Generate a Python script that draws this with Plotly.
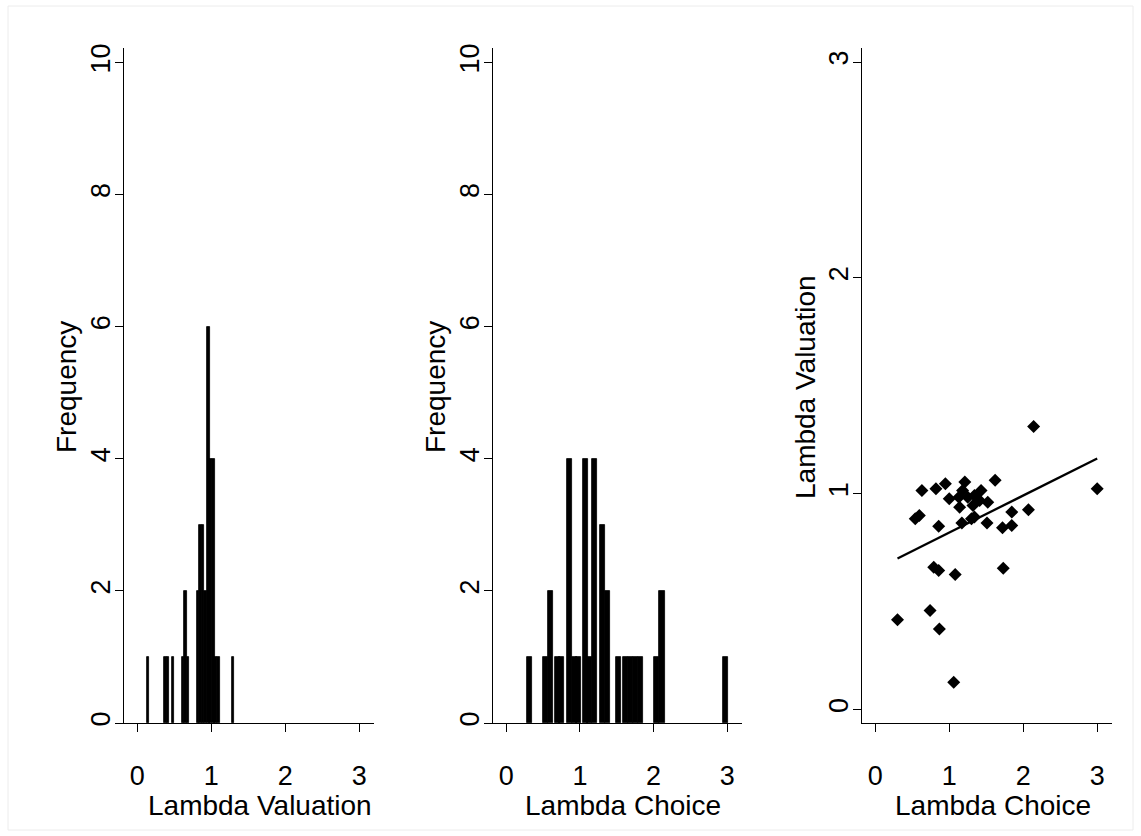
import plotly.graph_objects as go

# ---------------- data ----------------
# Histogram of Lambda Valuation (bin centres and frequencies)
val_bin_centers = [0.144, 0.381, 0.415, 0.483, 0.619, 0.653, 0.687, 0.822, 0.856,
                   0.890, 0.924, 0.958, 0.992, 1.026, 1.060, 1.094, 1.295]
val_freq = [1, 1, 1, 1, 1, 2, 1, 2, 3, 3, 2, 6, 4, 4, 1, 1, 1]
val_bin_width = 0.036

# Histogram of Lambda Choice (bin centres and frequencies)
choice_bin_centers = [0.318, 0.534, 0.596, 0.691, 0.750, 0.860, 0.924, 0.985, 1.082,
                      1.134, 1.192, 1.300, 1.370, 1.520, 1.615, 1.683, 1.751, 1.818,
                      2.046, 2.114, 2.977]
choice_freq = [1, 1, 2, 1, 1, 4, 1, 1, 4, 1, 4, 3, 2, 1, 1, 1, 1, 1, 1, 2, 1]
choice_bin_width = 0.068

# Scatter: Lambda Choice (x) vs Lambda Valuation (y)
lambda_choice = [2.14, 3.00, 1.62, 0.63, 0.82, 0.947, 1.00, 1.21, 1.18, 1.13, 1.14, 1.25,
                 1.32, 1.34, 1.43, 1.41, 1.52, 0.54, 0.595, 0.857, 1.17, 1.30, 1.34, 1.51,
                 1.72, 1.845, 1.845, 2.07, 0.79, 0.857, 1.08, 1.73, 0.74, 0.30, 0.866, 1.06]
lambda_valuation = [1.312, 1.023, 1.062, 1.015, 1.023, 1.046, 0.977, 1.054, 1.015, 0.984,
                    0.938, 0.984, 0.946, 0.992, 1.015, 0.969, 0.961, 0.884, 0.899, 0.850,
                    0.864, 0.884, 0.892, 0.864, 0.842, 0.915, 0.853, 0.926, 0.660, 0.644,
                    0.626, 0.655, 0.459, 0.416, 0.374, 0.127]

# Linear fit
fit_intercept = 0.649
fit_slope = 0.1715

x_tick_vals = [0, 1, 2, 3]
freq_tick_vals = [0, 2, 4, 6, 8, 10]
val_tick_vals = [0, 1, 2, 3]

# ---------------- figure ----------------
FONT = "Liberation Sans, Arial, sans-serif"
W, H = 1141, 836

fig = go.Figure()

bar_style = dict(color="black", line=dict(color="black", width=0.8))
fig.add_trace(go.Bar(x=val_bin_centers, y=val_freq, width=val_bin_width,
                     marker=bar_style, xaxis="x", yaxis="y", showlegend=False))
fig.add_trace(go.Bar(x=choice_bin_centers, y=choice_freq, width=choice_bin_width,
                     marker=bar_style, xaxis="x2", yaxis="y2", showlegend=False))
fig.add_trace(go.Scatter(x=lambda_choice, y=lambda_valuation, mode="markers",
                         marker=dict(symbol="diamond", size=10, color="black"),
                         xaxis="x3", yaxis="y3", showlegend=False))
xfit = [min(lambda_choice), max(lambda_choice)]
yfit = [fit_intercept + fit_slope * v for v in xfit]
fig.add_trace(go.Scatter(x=xfit, y=yfit, mode="lines",
                         line=dict(color="black", width=2.3),
                         xaxis="x3", yaxis="y3", showlegend=False))


def px_x(p):
    return p / W


def px_y(p):
    return 1 - p / H


ydom = [px_y(723), px_y(48)]
xdoms = [[px_x(124), px_x(374)], [px_x(493), px_x(742)], [px_x(862), px_x(1112)]]

common = dict(showline=True, linecolor="black", linewidth=1, ticks="outside",
              ticklen=8, tickwidth=1, tickcolor="black", showgrid=False,
              zeroline=False, automargin=False,
              tickfont=dict(family=FONT, size=27, color="black"))

xaxis_cfg = dict(common, range=[-0.18, 3.2], tickvals=x_tick_vals,
                 ticklabelstandoff=21)
yaxis_cfg = dict(common, tickangle=-90, ticklabelstandoff=-6)
fig.update_layout(
    xaxis=dict(xaxis_cfg, domain=xdoms[0], anchor="y"),
    xaxis2=dict(xaxis_cfg, domain=xdoms[1], anchor="y2"),
    xaxis3=dict(xaxis_cfg, domain=xdoms[2], anchor="y3"),
    yaxis=dict(yaxis_cfg, domain=ydom, anchor="x", range=[0, 10.22],
               tickvals=freq_tick_vals),
    yaxis2=dict(yaxis_cfg, domain=ydom, anchor="x2", range=[0, 10.22],
                tickvals=freq_tick_vals),
    yaxis3=dict(yaxis_cfg, domain=ydom, anchor="x3", range=[-0.062, 3.065],
                tickvals=val_tick_vals),
    width=W, height=H,
    margin=dict(l=0, r=0, t=0, b=0),
    paper_bgcolor="white", plot_bgcolor="white",
    bargap=0, barmode="overlay",
    font=dict(family=FONT, color="black"),
)

title_font = dict(family=FONT, size=28, color="black")
x_titles = [("Lambda Valuation", 260), ("Lambda Choice", 623), ("Lambda Choice", 993)]
for text, cx in x_titles:
    fig.add_annotation(text=text, x=px_x(cx), y=px_y(805), xref="paper", yref="paper",
                       showarrow=False, font=title_font, xanchor="center", yanchor="middle")
y_titles = [("Frequency", 66), ("Frequency", 435), ("Lambda Valuation", 805)]
for text, cx in y_titles:
    fig.add_annotation(text=text, x=px_x(cx), y=px_y(387), xref="paper", yref="paper",
                       showarrow=False, font=title_font, textangle=-90,
                       xanchor="center", yanchor="middle")

# faint outer frame of the graph region
fig.add_shape(type="rect", xref="paper", yref="paper",
              x0=px_x(8), x1=px_x(1133), y0=px_y(830), y1=px_y(6),
              line=dict(color="#ececec", width=1), fillcolor="rgba(0,0,0,0)", layer="below")

fig.write_html("out.html")
